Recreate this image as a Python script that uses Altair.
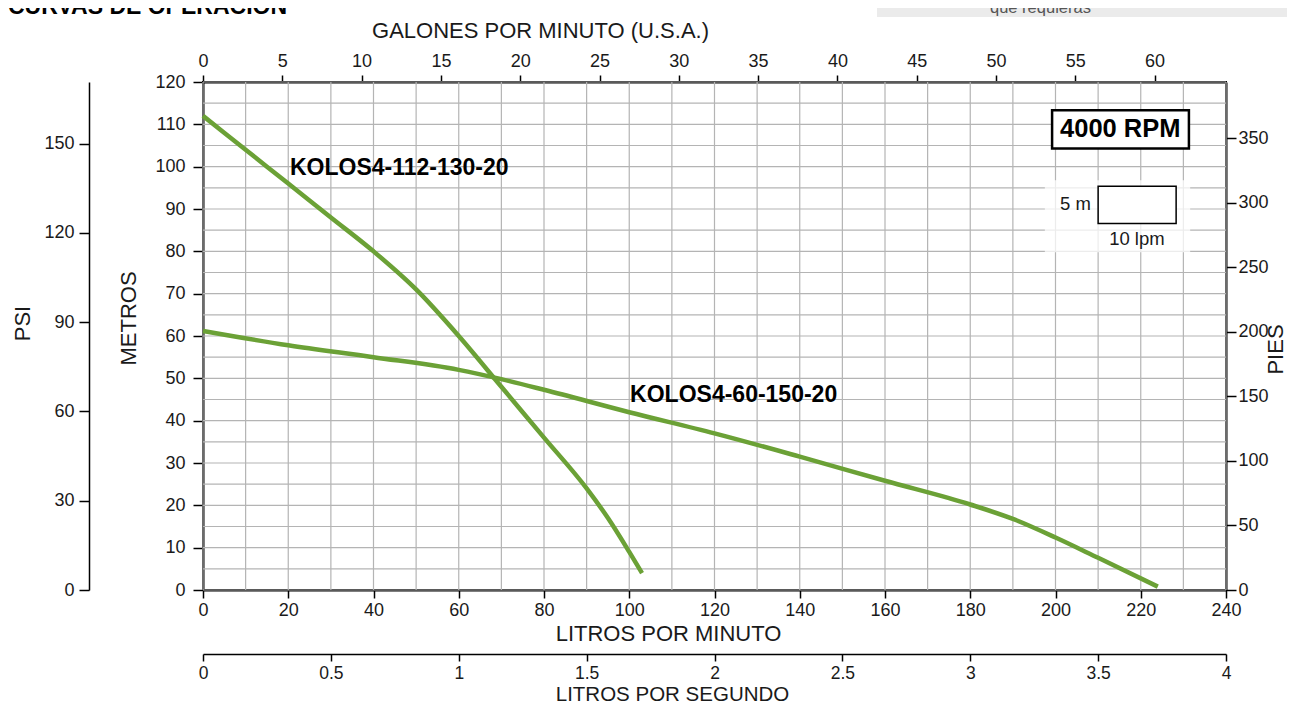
import altair as alt
import pandas as pd

# ---------------- data ----------------
flow_a_lpm = [0, 10, 20, 30, 40, 50, 60, 70, 80, 90, 95, 100, 103]
head_a_m = [112, 104, 96, 88, 80, 71, 60, 48, 36, 24, 17, 9, 4]
flow_b_lpm = [0, 20, 40, 60, 70, 80, 100, 120, 140, 160, 180, 190, 200, 210, 224]
head_b_m = [61.2, 57.8, 55, 52, 49.8, 47.3, 42, 37, 31.5, 25.8, 20.2, 16.8, 12.4, 7.6, 0.8]
model_names = ["KOLOS4-112-130-20", "KOLOS4-60-150-20"]
label_lpm = [20.4, 100.2]
label_m = [99.6, 46.0]

lpm_grid = list(range(0, 241, 10))
m_grid = list(range(0, 121, 5))
lpm_ticks = list(range(0, 241, 20))
m_ticks = list(range(0, 121, 10))
gpm_ticks = list(range(0, 61, 5))
ft_ticks = list(range(0, 351, 50))
psi_ticks = list(range(0, 151, 30))
lps_ticks = [0, 0.5, 1, 1.5, 2, 2.5, 3, 3.5, 4]

LPM_MAX = 240
M_MAX = 120
GPM_MAX = 64.5
FT_MAX = 120 / 0.3048
PSI_MAX = 120 / 0.70307
LPS_MAX = 4

rpm_text = ["4000 RPM"]
rpm_box = dict(lpm=[199.2], lpm2=[231.3], m=[113.3], m2=[104.3])
rpm_pos = dict(lpm=[215.2], m=[108.8])
panel_box = dict(lpm=[197.5], lpm2=[231.6], m=[96.8], m2=[79.8])
scale_box = dict(lpm=[210.0], lpm2=[228.3], m=[95.4], m2=[86.6])
scale_texts = ["5 m", "10 lpm"]
scale_text_lpm = [208.3, 219.1]
scale_text_m = [91.1, 82.9]

GREEN = "#6ba136"
GRID = "#b4b4b4"
FONT = "Liberation Sans"
INK = "#1a1a1a"

# ---------------- tables ----------------
curves = pd.concat([
    pd.DataFrame({"lpm": flow_a_lpm, "m": head_a_m, "model": model_names[0]}),
    pd.DataFrame({"lpm": flow_b_lpm, "m": head_b_m, "model": model_names[1]}),
])
labels_df = pd.DataFrame({"lpm": label_lpm, "m": label_m, "txt": model_names})
vgrid_df = pd.DataFrame({"lpm": lpm_grid})
hgrid_df = pd.DataFrame({"m": m_grid})

base_axis = dict(labelFont=FONT, labelFontSize=18, labelColor=INK, titleFont=FONT,
                 titleFontWeight="normal", titleColor=INK,
                 tickColor="black", domainColor="black", grid=False,
                 labelFlush=False, labelOverlap=False)

xs = alt.Scale(domain=[0, LPM_MAX], nice=False, zero=True)
ys = alt.Scale(domain=[0, M_MAX], nice=False, zero=True)
x_axis = alt.Axis(orient="bottom", values=lpm_ticks, tickSize=8, tickWidth=1.5, domainWidth=2,
                  labelPadding=3, title="LITROS POR MINUTO", titlePadding=4, titleFontSize=22,
                  titleX=465, **base_axis)
y_axis = alt.Axis(orient="left", values=m_ticks, tickSize=10, tickWidth=1.5, domainWidth=2,
                  labelPadding=8, title="METROS", titlePadding=14, titleY=236, titleFontSize=22,
                  **base_axis)

X = alt.X("lpm:Q", scale=xs, axis=x_axis)
Y = alt.Y("m:Q", scale=ys, axis=y_axis)

vgrid = alt.Chart(vgrid_df).mark_rule(color=GRID, strokeWidth=1.2).encode(x=X)
hgrid = alt.Chart(hgrid_df).mark_rule(color=GRID, strokeWidth=1.2).encode(y=Y)

lines = alt.Chart(curves).mark_line(color=GREEN, strokeWidth=4.5, interpolate="monotone").encode(
    x=X, y=Y, detail="model:N")

curve_labels = alt.Chart(labels_df).mark_text(
    align="left", baseline="middle", font=FONT, fontSize=23, fontWeight="bold", color="black"
).encode(x=X, y=Y, text="txt:N")

panel = alt.Chart(pd.DataFrame(panel_box)).mark_rect(color="white", opacity=0.75).encode(
    x=X, x2="lpm2:Q", y=Y, y2="m2:Q")
rpm_rect = alt.Chart(pd.DataFrame(rpm_box)).mark_rect(fill="white", stroke="black", strokeWidth=2.5).encode(
    x=X, x2="lpm2:Q", y=Y, y2="m2:Q")
rpm_label = alt.Chart(pd.DataFrame({**rpm_pos, "txt": rpm_text})).mark_text(
    align="center", baseline="middle", font=FONT, fontSize=25.5, fontWeight="bold", color="black"
).encode(x=X, y=Y, text="txt:N")
scale_rect = alt.Chart(pd.DataFrame(scale_box)).mark_rect(fill="white", stroke="black", strokeWidth=1.5).encode(
    x=X, x2="lpm2:Q", y=Y, y2="m2:Q")
scale_df = pd.DataFrame({"lpm": scale_text_lpm, "m": scale_text_m, "txt": scale_texts})
scale_lbl1 = alt.Chart(scale_df.iloc[[0]]).mark_text(
    align="right", baseline="middle", font=FONT, fontSize=18.5, color=INK).encode(x=X, y=Y, text="txt:N")
scale_lbl2 = alt.Chart(scale_df.iloc[[1]]).mark_text(
    align="center", baseline="middle", font=FONT, fontSize=18.5, color=INK).encode(x=X, y=Y, text="txt:N")

# header fragments cut by the top of the picture
header_df = pd.DataFrame({"t": ["CURVAS DE OPERACIÓN"]})
header = alt.Chart(header_df).mark_text(
    align="left", baseline="alphabetic", font=FONT, fontSize=23, fontWeight="bold", color="black"
).encode(x=alt.value(-195), y=alt.value(-68), text="t:N")
banner = alt.Chart(header_df).mark_rect(color="#ebebeb").encode(
    x=alt.value(674), x2=alt.value(1100), y=alt.value(-95), y2=alt.value(-65))
banner_txt = alt.Chart(pd.DataFrame({"t": ["que requieras"]})).mark_text(
    align="left", baseline="alphabetic", font="Liberation Sans Narrow, Liberation Sans", fontSize=16.5,
    color="#555555").encode(x=alt.value(787), y=alt.value(-69), text="t:N")

main = alt.layer(vgrid, hgrid, panel, lines, curve_labels, rpm_rect, rpm_label, scale_rect,
                 scale_lbl1, scale_lbl2, banner, header, banner_txt)

# secondary axes
top_layer = alt.Chart(pd.DataFrame({"gpm": [0, GPM_MAX]})).mark_rule(opacity=0).encode(
    x=alt.X("gpm:Q", scale=alt.Scale(domain=[0, GPM_MAX], nice=False, zero=True),
            axis=alt.Axis(orient="top", values=gpm_ticks, tickSize=7, tickWidth=1.5, domainWidth=2,
                          labelPadding=5, title="GALONES POR MINUTO (U.S.A.)", titlePadding=10,
                          titleFontSize=22, titleX=337, **base_axis)))
right_layer = alt.Chart(pd.DataFrame({"ft": [0, FT_MAX]})).mark_rule(opacity=0).encode(
    y=alt.Y("ft:Q", scale=alt.Scale(domain=[0, FT_MAX], nice=False, zero=True),
            axis=alt.Axis(orient="right", values=ft_ticks, tickSize=10, tickWidth=1.5, domainWidth=2,
                          labelPadding=2, title="PIES", titleAngle=270, titleX=56, titleY=267,
                          titleAlign="center", titleBaseline="alphabetic", titleFontSize=22,
                          **base_axis)))
psi_layer = alt.Chart(pd.DataFrame({"psi": [0, PSI_MAX]})).mark_rule(opacity=0).encode(
    y=alt.Y("psi:Q", scale=alt.Scale(domain=[0, PSI_MAX], nice=False, zero=True),
            axis=alt.Axis(orient="left", offset=114, values=psi_ticks, tickSize=10, tickWidth=1.5,
                          domainWidth=1.5, labelPadding=5, title="PSI", titlePadding=9, titleY=241,
                          titleFontSize=22, **base_axis)))
lps_layer = alt.Chart(pd.DataFrame({"lps": [0, LPS_MAX]})).mark_rule(opacity=0).encode(
    x=alt.X("lps:Q", scale=alt.Scale(domain=[0, LPS_MAX], nice=False, zero=True),
            axis=alt.Axis(orient="bottom", offset=64, values=lps_ticks, format="~g", tickSize=7,
                          tickWidth=1.5, domainWidth=1.5, labelPadding=3, labelFontSize=17.5,
                          title="LITROS POR SEGUNDO", titlePadding=3, titleFontSize=20.5,
                          titleX=469, **{k: v for k, v in base_axis.items() if k != "labelFontSize"})))

chart = alt.layer(main, top_layer, right_layer, psi_layer, lps_layer).resolve_scale(
    x="independent", y="independent"
).properties(
    width=1023, height=508,
    autosize=alt.AutoSizeParams(type="none"),
    padding={"left": 195, "top": 74, "right": 61, "bottom": 117},
    background="white",
).configure_view(stroke="black", strokeWidth=2)

chart.save("out.html", embed_options={"renderer": "svg", "actions": False})
